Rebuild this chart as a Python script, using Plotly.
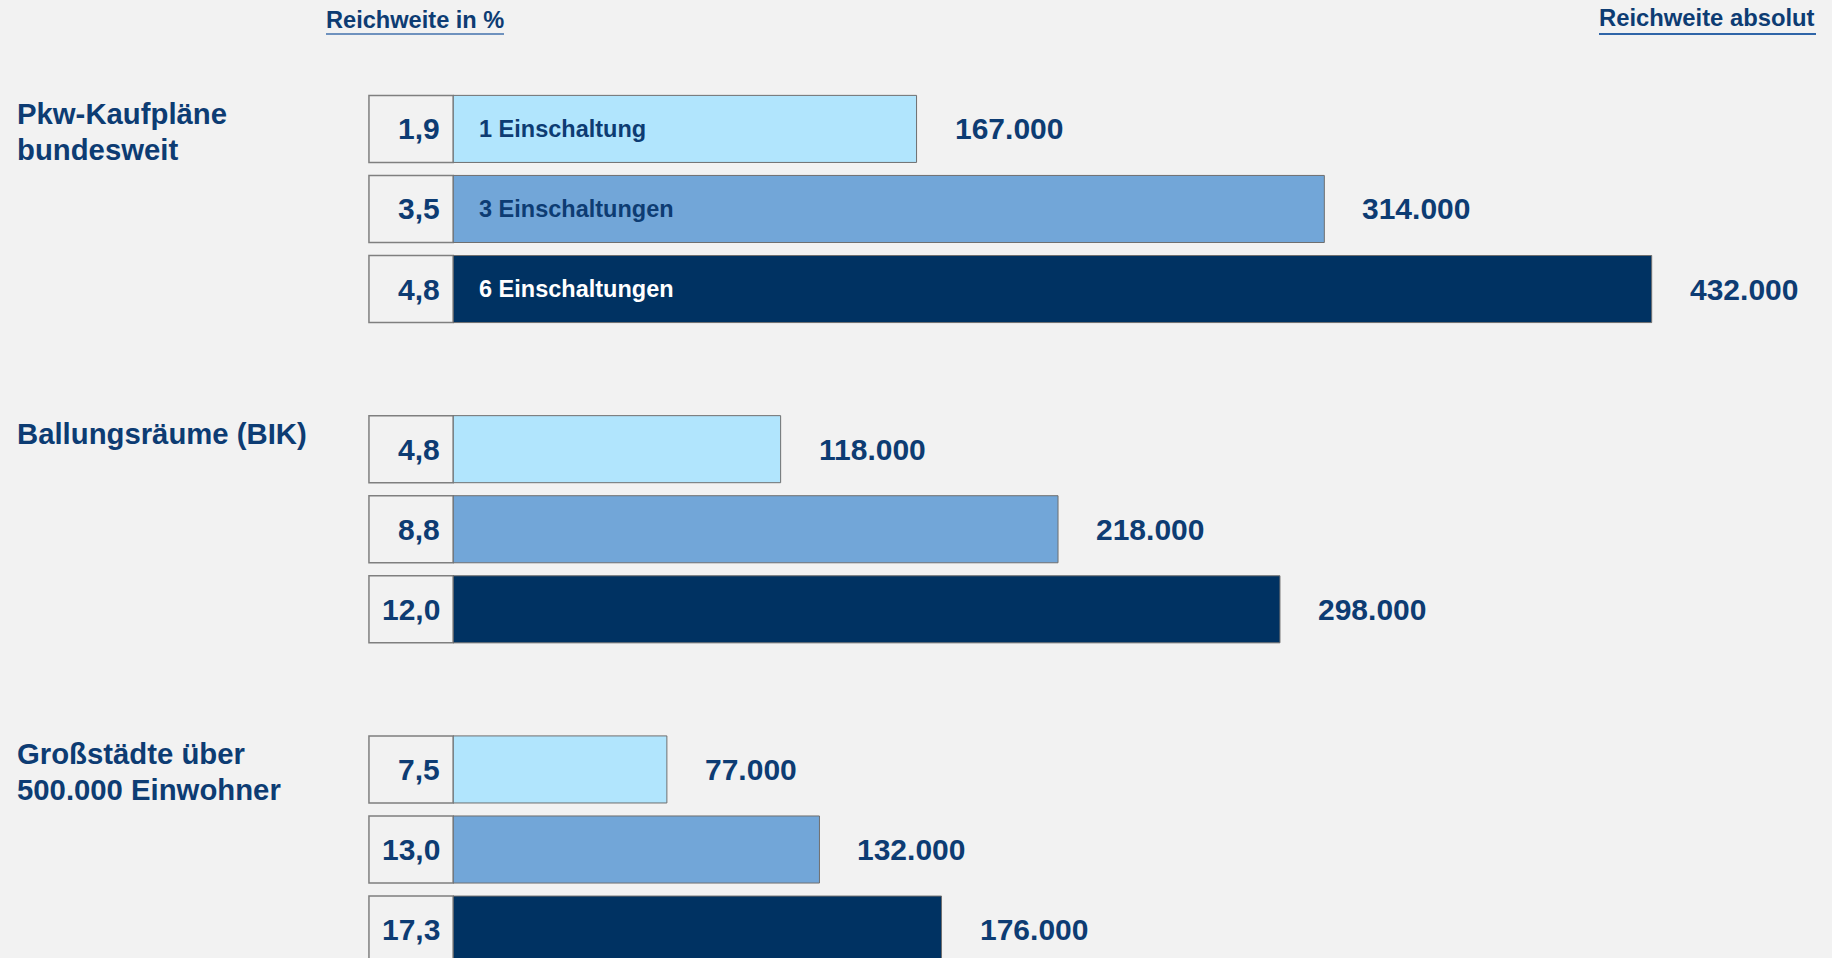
import plotly.graph_objects as go

# Reichweite-Vergleich nach Einschaltungen
gruppen = [["Pkw-Kaufpläne", "bundesweit"], ["Ballungsräume (BIK)"], ["Großstädte über", "500.000 Einwohner"]]
einschaltungen = ["1 Einschaltung", "3 Einschaltungen", "6 Einschaltungen"]

reichweite_pct = [
    [1.9, 3.5, 4.8],
    [4.8, 8.8, 12.0],
    [7.5, 13.0, 17.3],
]
reichweite_abs = [
    [167000, 314000, 432000],
    [118000, 218000, 298000],
    [77000, 132000, 176000],
]

farben = ["#b1e5fd", "#72a6d8", "#003262"]
textfarben = ["#0d3c73", "#0d3c73", "#ffffff"]
dunkelblau = "#0d3c73"
hintergrund = "#f2f2f2"

BOX = 30400  # Breite der Prozent-Kästchen in x-Einheiten
W, H = 1832, 958

fig = go.Figure()
annotations = []

for g, zeilen in enumerate(gruppen):
    slots = [g * 4 + i for i in range(3)]
    for i in range(3):
        # Kästchen mit Prozentwert
        fig.add_trace(go.Bar(
            x=[BOX], y=[slots[i]], base=[-BOX], orientation="h", width=0.8375,
            marker=dict(color=hintergrund, line=dict(color="#7f7f7f", width=1.5)),
            hoverinfo="skip", showlegend=False,
        ))
        fig.add_trace(go.Bar(
            x=[reichweite_abs[g][i]], y=[slots[i]], orientation="h", width=0.8375,
            marker=dict(color=farben[i], line=dict(color="#6f6f6f", width=1)),
            name=einschaltungen[i], showlegend=False,
        ))
        pct = f"{reichweite_pct[g][i]:.1f}".replace(".", ",")
        annotations.append(dict(
            x=0, y=slots[i], xref="x", yref="y", text=f"<b>{pct}</b>",
            xanchor="right", xshift=-11, showarrow=False,
            font=dict(size=30, color=dunkelblau),
        ))
        absolut = f"{reichweite_abs[g][i]:,}".replace(",", ".")
        annotations.append(dict(
            x=reichweite_abs[g][i], y=slots[i], xref="x", yref="y", text=f"<b>{absolut}</b>",
            xanchor="left", xshift=36, showarrow=False,
            font=dict(size=30, color=dunkelblau),
        ))
        if g == 0:
            annotations.append(dict(
                x=0, y=slots[i], xref="x", yref="y", text=f"<b>{einschaltungen[i]}</b>",
                xanchor="left", xshift=24, showarrow=False,
                font=dict(size=23.5, color=textfarben[i]),
            ))
    # Gruppenname, Zeile für Zeile
    for k, zeile in enumerate(zeilen):
        annotations.append(dict(
            x=15 / W, y=slots[0] - 0.42, xref="paper", yref="y", text=f"<b>{zeile}</b>",
            xanchor="left", yanchor="middle", yshift=-18 - 36 * k, showarrow=False,
            font=dict(size=29.3, color=dunkelblau),
        ))

# Kopfzeilen
annotations.append(dict(
    x=324 / W, y=1 - 20 / H, xref="paper", yref="paper", text="<b>Reichweite in %</b>",
    xanchor="left", yanchor="middle", showarrow=False, font=dict(size=23.6, color=dunkelblau),
))
annotations.append(dict(
    x=1817 / W, y=1 - 18 / H, xref="paper", yref="paper", text="<b>Reichweite absolut</b>",
    xanchor="right", yanchor="middle", showarrow=False, font=dict(size=23.8, color=dunkelblau),
))
shapes = [
    dict(type="line", xref="paper", yref="paper", x0=326 / W, x1=504 / W,
         y0=1 - 34 / H, y1=1 - 34 / H, line=dict(color="#6f92be", width=2)),
    dict(type="line", xref="paper", yref="paper", x0=1599 / W, x1=1816 / W,
         y0=1 - 34 / H, y1=1 - 34 / H, line=dict(color="#2f65a8", width=2)),
]

fig.update_layout(
    width=W, height=H,
    margin=dict(l=0, r=0, t=0, b=0),
    paper_bgcolor=hintergrund, plot_bgcolor=hintergrund,
    font=dict(family="Liberation Sans, Arial, sans-serif", color=dunkelblau),
    barmode="overlay",
    xaxis=dict(range=[-163400, 497000], visible=False),
    yaxis=dict(range=[10.355, -1.61], visible=False),
    annotations=annotations, shapes=shapes,
)

fig.write_html(
    "out.html",
    config={"displayModeBar": False},
    post_script="document.body.style.margin='0';",
)
